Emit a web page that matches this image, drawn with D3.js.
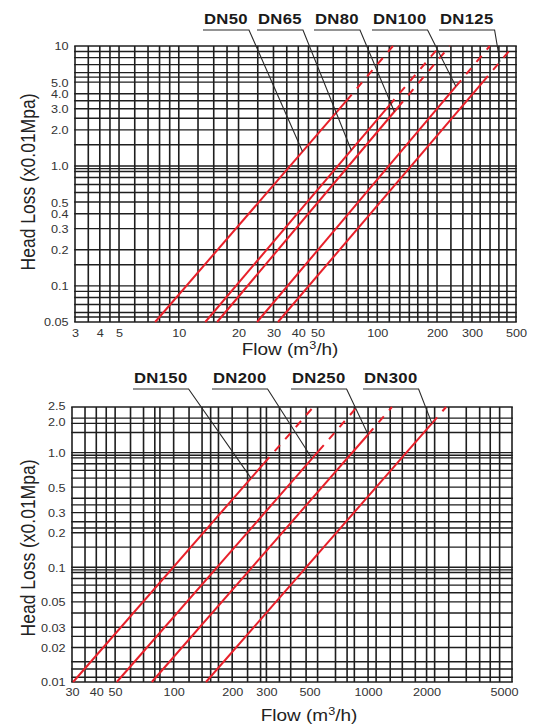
<!DOCTYPE html>
<html><head><meta charset="utf-8">
<script src="https://cdn.jsdelivr.net/npm/d3@7"></script>
<style>
html,body{margin:0;padding:0;background:#fff;}
svg{display:block;}
</style></head><body>
<svg id="chart" width="533" height="728"></svg>
<script>
// ================= DATA =================
// Upper chart (DN50 - DN125)
const topSeries        = ["DN50", "DN65", "DN80", "DN100", "DN125"];
const topFlowStart     = [7.6, 13.6, 15.6, 24.8, 31.6];     // m3/h at head 0.05
const topHeadStart     = [0.05, 0.05, 0.05, 0.05, 0.05];
const topFlowSolidEnd  = [70, 115, 127, 249, 340];          // end of solid part
const topHeadSolidEnd  = [3.5, 3.2, 3.07, 4.6, 5.0];
const topFlowEnd       = [120, 207, 232, 369, 485];         // at head 10 (dashed end)
const topHeadEnd       = [10, 10, 10, 10, 10];
const topLabelFlow     = [42, 74, 122, 249, 415];           // leader anchor points
const topLabelHead     = [1.32, 1.35, 2.83, 4.6, 7.39];
const topXTicks        = [3, 4, 5, 10, 20, 30, 40, 50, 100, 200, 300, 500];
const topXTickLabels   = ["3","4","5","10","20","30","40","50","100","200","300","500"];
const topYTicks        = [10, 5, 4, 3, 2, 1, 0.5, 0.4, 0.3, 0.2, 0.1, 0.05];
const topYTickLabels   = ["10","5.0","4.0","3.0","2.0","1.0","0.5","0.4","0.3","0.2","0.1","0.05"];
const topXGrid = [3,3.5,4,4.5,5,6,7,8,9,10,12.5,15,17.5,20,25,30,35,40,45,50,60,70,80,90,100,115,130,145,160,180,200,235,270,300,330,370,410,450,500];
const topYGrid = [10,9,8,7,6,5.5,5,4,3.5,3,2.5,2,1.5,1,0.95,0.9,0.8,0.7,0.6,0.5,0.4,0.3,0.2,0.15,0.1,0.09,0.08,0.07,0.06,0.055,0.05];

// Lower chart (DN150 - DN300)
const botSeries        = ["DN150", "DN200", "DN250", "DN300"];
const botFlowStart     = [30.4, 51, 77.2, 146.6];           // m3/h at head 0.01
const botHeadStart     = [0.01, 0.01, 0.01, 0.01];
const botFlowSolidEnd  = [292, 556, 1000, 2130];
const botHeadSolidEnd  = [0.81, 1.03, 1.44, 1.80];
const botFlowEnd       = [523, 877, 1327, 2520];            // at head 2.5
const botHeadEnd       = [2.5, 2.5, 2.5, 2.5];
const botLabelFlow     = [250, 515, 1000, 2130];
const botLabelHead     = [0.6, 0.89, 1.44, 1.80];
const botXTicks        = [30, 40, 50, 100, 200, 300, 500, 1000, 2000, 5000];
const botXTickLabels   = ["30","40","50","100","200","300","500","1000","2000","5000"];
const botYTicks        = [2.5, 2.0, 1.0, 0.5, 0.3, 0.2, 0.1, 0.05, 0.03, 0.02, 0.01];
const botYTickLabels   = ["2.5","2.0","1.0","0.5","0.3","0.2","0.1","0.05","0.03","0.02","0.01"];
const botXGrid = [30,35,40,45,50,60,70,80,85,100,120,140,155,170,200,240,280,300,350,400,480,550,680,780,850,1000,1100,1300,1500,1750,2000,2200,2600,3200,3750,4250,4750,5500];
const botYGrid = [2.5,2.0,1.8,1.5,1.0,0.95,0.9,0.8,0.7,0.6,0.5,0.4,0.35,0.3,0.25,0.22,0.2,0.15,0.1,0.095,0.09,0.08,0.07,0.06,0.05,0.04,0.03,0.025,0.02,0.015,0.013,0.011,0.01];

// ================= DRAWING =================
const FONT = "'Liberation Sans', Arial, Helvetica, sans-serif";
const SX = 1.15;            // horizontal stretch of the original artwork's lettering
const RED = "#e8202a";
const GRID = "#1e1e1e";

const svg = d3.select("#chart");
svg.append("rect").attr("width", 533).attr("height", 728).attr("fill", "#fff");

function panel(o) {
  const x = d3.scaleLog().domain(o.xDomain).range([o.left, o.right]);
  const y = d3.scaleLog().domain(o.yDomain).range([o.bottom, o.top]);
  const g = svg.append("g");

  // grid
  g.append("g").selectAll("line").data(o.xGrid).join("line")
    .attr("x1", d => x(d)).attr("x2", d => x(d))
    .attr("y1", o.top).attr("y2", o.bottom)
    .attr("stroke", GRID).attr("stroke-width", 1.6);
  g.append("g").selectAll("line").data(o.yGrid).join("line")
    .attr("x1", o.left - 0.8).attr("x2", o.right + 0.8)
    .attr("y1", d => y(d)).attr("y2", d => y(d))
    .attr("stroke", GRID).attr("stroke-width", 1.4);

  // axes (labels only)
  const xLab = new Map(o.xTicks.map((v, i) => [v, o.xTickLabels[i]]));
  const gx = g.append("g").attr("transform", `translate(0,${o.bottom})`)
    .call(d3.axisBottom(x).tickValues(o.xTicks).tickFormat(d => xLab.get(d)).tickSize(0).tickPadding(0));
  gx.select(".domain").remove();
  gx.attr("font-family", FONT).attr("font-size", 11);
  gx.selectAll("text").attr("y", 0).attr("dy", null)
    .attr("transform", `translate(0,${o.xLabelDy}) scale(${SX},1)`)
    .attr("fill", "#333");

  const yLab = new Map(o.yTicks.map((v, i) => [v, o.yTickLabels[i]]));
  const shift = o.yLabelShift || {};
  const gy = g.append("g").attr("transform", `translate(${o.left},0)`)
    .call(d3.axisLeft(y).tickValues(o.yTicks).tickFormat(d => yLab.get(d)).tickSize(0).tickPadding(0));
  gy.select(".domain").remove();
  gy.attr("font-family", FONT).attr("font-size", 11);
  gy.selectAll("text").attr("x", -6.5 / SX).attr("dy", "0.36em")
    .attr("transform", d => `translate(0,${shift[d] || 0}) scale(${SX},1)`).attr("fill", "#333");

  // red head-loss lines
  const line = d3.line().x(d => x(d[0])).y(d => y(d[1]));
  o.series.forEach((name, i) => {
    const solid = [[o.fStart[i], o.hStart[i]], [o.fMid[i], o.hMid[i]]];
    const dash = [[o.fMid[i], o.hMid[i]], [o.fEnd[i], o.hEnd[i]]];
    g.append("path").attr("d", line(solid)).attr("fill", "none")
      .attr("stroke", RED).attr("stroke-width", 2);
    g.append("path").attr("d", line(dash)).attr("fill", "none")
      .attr("stroke", RED).attr("stroke-width", 2).attr("stroke-dasharray", "8,8");
  });

  // series labels with underline and leader
  o.series.forEach((name, i) => {
    const lx = o.labelX[i], ly = o.labelBase;
    const t = g.append("text")
      .attr("transform", `translate(${lx},${ly}) scale(${SX},1)`)
      .attr("font-family", FONT).attr("font-weight", "bold").attr("font-size", 14.5)
      .attr("fill", "#1a1a1a").attr("letter-spacing", 0.3).text(name);
    const w = t.node().getComputedTextLength() * SX;
    const uy = ly + 6;
    const ax = x(o.lFlow[i]), ay = y(o.lHead[i]);
    g.append("path")
      .attr("d", `M${lx - 1},${uy}L${lx + w + 1},${uy}L${ax},${ay}`)
      .attr("fill", "none").attr("stroke", "#2a2a2a").attr("stroke-width", 1.1);
  });

  // axis titles
  const ft = g.append("text")
    .attr("transform", `translate(${o.flowX},${o.flowY}) scale(${SX},1)`)
    .attr("text-anchor", "middle").attr("font-family", FONT).attr("font-size", 16.5)
    .attr("fill", "#222");
  ft.append("tspan").text("Flow (m");
  ft.append("tspan").attr("dy", -6).attr("font-size", 11).text("3");
  ft.append("tspan").attr("dy", 6).text("/h)");

  g.append("text")
    .attr("transform", `translate(${o.headX},${o.headY}) rotate(-90) scale(1,${SX})`)
    .attr("text-anchor", "middle").attr("font-family", FONT).attr("font-size", 17.5)
    .attr("fill", "#222").attr("dy", "0.35em").text("Head Loss (x0.01Mpa)");
}

panel({
  left: 75, right: 516, top: 46, bottom: 322,
  xDomain: [3, 500], yDomain: [0.05, 10],
  xGrid: topXGrid, yGrid: topYGrid,
  xTicks: topXTicks, xTickLabels: topXTickLabels,
  yTicks: topYTicks, yTickLabels: topYTickLabels,
  xLabelDy: 15,
  series: topSeries,
  fStart: topFlowStart, hStart: topHeadStart,
  fMid: topFlowSolidEnd, hMid: topHeadSolidEnd,
  fEnd: topFlowEnd, hEnd: topHeadEnd,
  lFlow: topLabelFlow, lHead: topLabelHead,
  labelX: [204, 258, 315, 373, 440], labelBase: 24,
  flowX: 290, flowY: 355, headX: 28, headY: 182
});

panel({
  left: 72, right: 512, top: 407, bottom: 682,
  xDomain: [30, 5500], yDomain: [0.01, 2.5],
  xGrid: botXGrid, yGrid: botYGrid,
  xTicks: botXTicks, xTickLabels: botXTickLabels,
  yTicks: botYTicks, yTickLabels: botYTickLabels,
  yLabelShift: {2.5: -1, 2: 3},
  xLabelDy: 14,
  series: botSeries,
  fStart: botFlowStart, hStart: botHeadStart,
  fMid: botFlowSolidEnd, hMid: botHeadSolidEnd,
  fEnd: botFlowEnd, hEnd: botHeadEnd,
  lFlow: botLabelFlow, lHead: botLabelHead,
  labelX: [134, 213, 292, 364], labelBase: 383,
  flowX: 309, flowY: 721, headX: 28, headY: 548
});
</script>
</body></html>
